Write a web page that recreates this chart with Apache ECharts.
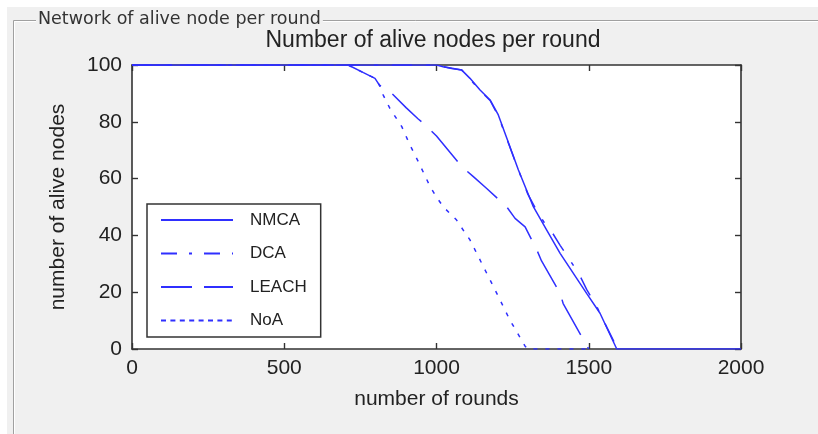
<!DOCTYPE html>
<html>
<head>
<meta charset="utf-8">
<script src="https://cdn.jsdelivr.net/npm/echarts@6/dist/echarts.min.js"></script>
<style>
  html, body { margin: 0; padding: 0; background: #ffffff; }
  #chart { width: 818px; height: 434px; }
</style>
</head>
<body>
<div id="chart"></div>
<script>
// Alive nodes per round for each clustering protocol
const nmcaRounds  = [0, 1000, 1022, 1050, 1083, 1110, 1143, 1176, 1203, 1231, 1269, 1318, 1362, 1406, 1449, 1493, 1537, 1592, 2000];
const nmcaAlive   = [100, 100, 99.4, 98.8, 98.2, 95.3, 91.2, 87.7, 82.4, 74.2, 63, 50.1, 41.9, 33.7, 26.7, 19.6, 12.6, 0, 0];

const dcaRounds   = [0, 1000, 1022, 1083, 1110, 1143, 1176, 1203, 1231, 1269, 1300, 1330, 1360, 1380, 1406, 1440, 1470, 1493, 1526, 1560, 1595];
const dcaAlive    = [100, 100, 99.4, 98.2, 95, 91, 87.5, 82, 74, 63, 54.5, 48.5, 43.5, 41, 36.5, 31, 26, 21, 15, 7.5, 0];

const leachRounds = [0, 710, 760, 798, 812, 853, 900, 940, 962, 1000, 1083, 1121, 1164, 1231, 1258, 1291, 1329, 1345, 1406, 1416, 1477, 1500];
const leachAlive  = [100, 100, 97.3, 95.3, 93, 90, 85, 81, 79, 75, 64.2, 60.7, 56.6, 50, 46, 43, 35, 31, 19.6, 16, 4.3, 0];

const noaRounds   = [0, 710, 760, 798, 812, 825, 847, 886, 913, 940, 979, 1000, 1022, 1066, 1090, 1110, 1154, 1198, 1241, 1291, 1300, 1500];
const noaAlive    = [100, 100, 97.3, 95.3, 93, 89.4, 84.7, 78.3, 71.8, 66, 57.2, 53.5, 50.1, 45.4, 41.5, 38.4, 29, 19.6, 10.2, 1, 0, 0];

const seriesNames = ['NMCA', 'DCA', 'LEACH', 'NoA'];
const xTicks = [0, 500, 1000, 1500, 2000];
const yTicks = [0, 20, 40, 60, 80, 100];

const pairs = (xs, ys) => xs.map((x, i) => [x, ys[i]]);
const seriesData = [
  pairs(nmcaRounds, nmcaAlive),
  pairs(dcaRounds, dcaAlive),
  pairs(leachRounds, leachAlive),
  pairs(noaRounds, noaAlive)
];

const BLUE = '#2f2fff';
const AXIS = '#333333';
const TEXT = '#222222';
const SANS = '"Liberation Sans", Arial, sans-serif';

// dash patterns for the plotted curves and for the legend samples
const plotDash   = ['solid', [20, 14, 4, 14], [40, 14], [4, 8]];
const legendDash = ['solid', [16, 12, 3, 12], [31, 12], [5, 4.4]];

const plainNumber = v => String(v);

const axisCommon = {
  type: 'value',
  axisLine: { show: true, onZero: false, lineStyle: { color: AXIS, width: 1.6 } },
  axisTick: { show: true, inside: true, length: 6, lineStyle: { color: AXIS, width: 1.4 } },
  splitLine: { show: false }
};

const chart = echarts.init(document.getElementById('chart'), null, { renderer: 'canvas' });

chart.setOption({
  animation: false,
  backgroundColor: '#f0f0f0',
  title: {
    text: 'Number of alive nodes per round',
    left: 433,
    textAlign: 'center',
    top: 29,
    padding: 0,
    textStyle: { fontFamily: SANS, fontSize: 23, fontWeight: 'normal', color: TEXT }
  },
  grid: {
    left: 132, right: 77, top: 65, bottom: 85,
    show: true, backgroundColor: '#ffffff', borderWidth: 0,
    outerBoundsMode: 'none'
  },
  legend: {
    orient: 'vertical',
    left: 147,
    top: 204,
    padding: [7.5, 14, 8, 13],
    itemWidth: 72,
    itemHeight: 14,
    itemGap: 16.5,
    selectedMode: false,
    backgroundColor: '#ffffff',
    borderColor: AXIS,
    borderWidth: 1.5,
    borderRadius: 0,
    textStyle: { fontFamily: SANS, fontSize: 17, color: TEXT, padding: [0, 0, 0, 12] },
    data: seriesNames.map((name, i) => ({
      name: name,
      // line sample only, no marker
      itemStyle: { opacity: 0 },
      lineStyle: { color: BLUE, width: 2, type: legendDash[i] }
    }))
  },
  xAxis: [
    Object.assign({}, axisCommon, {
      position: 'bottom',
      min: xTicks[0], max: xTicks[xTicks.length - 1], interval: xTicks[1] - xTicks[0],
      name: 'number of rounds',
      nameLocation: 'middle',
      nameGap: 40,
      nameTextStyle: { fontFamily: SANS, fontSize: 21, color: TEXT },
      axisLabel: { margin: 9, fontFamily: SANS, fontSize: 21, color: TEXT, formatter: plainNumber }
    }),
    Object.assign({}, axisCommon, {
      position: 'top',
      min: xTicks[0], max: xTicks[xTicks.length - 1], interval: xTicks[1] - xTicks[0],
      axisLabel: { show: false }
    })
  ],
  yAxis: [
    Object.assign({}, axisCommon, {
      position: 'left',
      min: yTicks[0], max: yTicks[yTicks.length - 1], interval: yTicks[1] - yTicks[0],
      name: 'number of alive nodes',
      nameLocation: 'middle',
      nameGap: 63,
      nameTextStyle: { fontFamily: SANS, fontSize: 21, color: TEXT },
      axisLabel: { margin: 10, fontFamily: SANS, fontSize: 21, color: TEXT, formatter: plainNumber }
    }),
    Object.assign({}, axisCommon, {
      position: 'right',
      min: yTicks[0], max: yTicks[yTicks.length - 1], interval: yTicks[1] - yTicks[0],
      axisLabel: { show: false }
    })
  ],
  series: seriesNames.map((name, i) => ({
    name: name,
    type: 'line',
    xAxisIndex: 0,
    yAxisIndex: 0,
    data: seriesData[i],
    symbol: 'none',
    showSymbol: false,
    silent: true,
    itemStyle: { color: BLUE },
    lineStyle: { color: BLUE, width: 1.5, type: plotDash[i] },
    z: 3
  })),
  graphic: [
    // white margin strips of the window capture
    { type: 'rect', shape: { x: 0, y: 0, width: 818, height: 7 }, style: { fill: '#ffffff' }, silent: true },
    { type: 'rect', shape: { x: 0, y: 0, width: 7, height: 434 }, style: { fill: '#ffffff' }, silent: true },
    // etched panel frame
    { type: 'polyline', shape: { points: [[13.5, 434], [13.5, 20.5], [818, 20.5]] },
      style: { stroke: '#a0a0a0', lineWidth: 1, fill: null }, silent: true },
    { type: 'polyline', shape: { points: [[14.5, 434], [14.5, 21.5], [818, 21.5]] },
      style: { stroke: '#ffffff', lineWidth: 1, fill: null }, silent: true },
    { type: 'text', x: 36, y: 19, silent: true,
      style: { text: 'Network of alive node per round', fill: '#333333',
               font: '17.5px "DejaVu Sans", sans-serif', verticalAlign: 'middle',
               backgroundColor: '#f0f0f0', padding: [0, 2] } }
  ]
});
</script>
</body>
</html>
